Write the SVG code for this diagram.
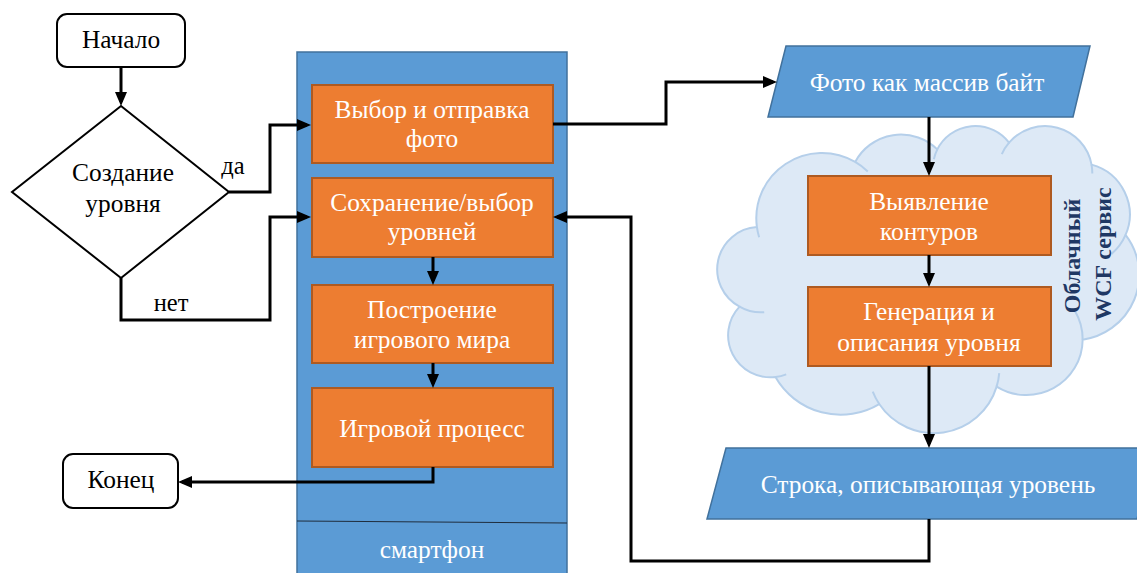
<svg xmlns="http://www.w3.org/2000/svg" width="1137" height="573" viewBox="0 0 1137 573">
<style>
.t{font-family:"Liberation Serif","Times New Roman",serif;font-size:25.4px;text-anchor:middle}
.w{fill:#ffffff}
.k{fill:#000000}
.orange{fill:#ed7d31;stroke:#ae5a21;stroke-width:2}
.blue{fill:#5b9bd5;stroke:#41719c;stroke-width:1.5}
.term{fill:#ffffff;stroke:#000000;stroke-width:2}
.conn{fill:none;stroke:#000000;stroke-width:3}
.cloud{fill:#dde9f6;stroke:#b5cfea;stroke-width:2}
.crease{fill:none;stroke:#b5cfea;stroke-width:2}
.svc{font-family:"Liberation Serif","Times New Roman",serif;font-size:24px;font-weight:bold;fill:#1f3864;text-anchor:middle}
</style>
<defs>
<marker id="ah" viewBox="0 0 14 12" refX="10" refY="6" markerWidth="14" markerHeight="12" markerUnits="userSpaceOnUse" orient="auto">
<path d="M0,0 L14,6 L0,12 Z" fill="#000000"/>
</marker>
</defs>
<rect width="1137" height="573" fill="#ffffff"/>

<g id="cloud">
<g transform="translate(719,125) scale(0.0097222,0.0071065)">
<path class="cloud" vector-effect="non-scaling-stroke" d="M3900,14370 A6753,9190 0 0 1 14005,5202 A5333,7267 0 0 1 22456,3432 A4365,5945 0 0 1 29833,2481 A4857,6595 0 0 1 38318,5576 A5333,7273 0 0 1 41818,15460 A6775,9220 0 0 1 37404,30203 A5785,7867 0 0 1 28556,36814 A6752,9215 0 0 1 16481,39265 A7720,10543 0 0 1 5805,35470 A4360,5918 0 0 1 2114,25549 A4345,5945 0 0 1 3900,14370 Z"/>
<path class="crease" vector-effect="non-scaling-stroke" d="M4650,26345 A4345,5945 0 0 1 2114,25549 M6914,35089 A4360,5918 0 0 1 5805,35470 M16481,39265 A6752,9215 0 0 1 15813,37525 M28823,34904 A6752,9215 0 0 1 28556,36814 M36630,26207 A5785,7867 0 0 1 37404,30203 M41818,15460 A5333,7273 0 0 1 40372,18134 M38318,5576 A4857,6595 0 0 1 38394,6840 M29090,4094 A4857,6595 0 0 1 29833,2481 M22097,4822 A4365,5945 0 0 1 22456,3432 M14005,5202 A6753,9190 0 0 1 15304,6549 M4127,15789 A6753,9190 0 0 1 3900,14370"/>
</g>
<text class="svc" transform="translate(1080,256) rotate(-90)">Облачный</text>
<text class="svc" transform="translate(1111,254) rotate(-90)">WCF сервис</text>
</g>

<g id="smartphone">
<rect class="blue" x="297" y="52" width="270" height="530"/>
<line x1="297" y1="521" x2="567" y2="523" stroke="#1f2d3d" stroke-width="1"/>
<text class="t w" x="432" y="558">смартфон</text>
</g>

<g id="start">
<rect class="term" x="57" y="14" width="128" height="53" rx="10"/>
<text class="t k" x="121" y="48">Начало</text>
</g>

<g id="decision">
<polygon class="term" points="121,106 229,192 121,278 12,192"/>
<text class="t k" x="123" y="181">Создание</text>
<text class="t k" x="123" y="212">уровня</text>
</g>

<g id="end">
<rect class="term" x="63" y="454" width="115" height="54" rx="10"/>
<text class="t k" x="121" y="488">Конец</text>
</g>

<g id="box-select-photo">
<rect class="orange" x="312" y="85" width="241" height="78"/>
<text class="t w" x="432" y="118">Выбор и отправка</text>
<text class="t w" x="432" y="147">фото</text>
</g>

<g id="box-save-levels">
<rect class="orange" x="312" y="178" width="241" height="79"/>
<text class="t w" x="432" y="211">Сохранение/выбор</text>
<text class="t w" x="432" y="240">уровней</text>
</g>

<g id="box-build-world">
<rect class="orange" x="312" y="285" width="241" height="78"/>
<text class="t w" x="432" y="318">Построение</text>
<text class="t w" x="432" y="348">игрового мира</text>
</g>

<g id="box-gameplay">
<rect class="orange" x="312" y="388" width="241" height="79"/>
<text class="t w" x="432" y="437">Игровой процесс</text>
</g>

<g id="photo-bytes">
<polygon class="blue" points="786,46 1090,46 1073,117 768,117"/>
<text class="t w" x="927" y="91">Фото как массив байт</text>
</g>

<g id="box-contours">
<rect class="orange" x="808" y="176" width="243" height="79"/>
<text class="t w" x="929" y="210">Выявление</text>
<text class="t w" x="929" y="240">контуров</text>
</g>

<g id="box-generation">
<rect class="orange" x="808" y="287" width="243" height="79"/>
<text class="t w" x="929" y="320">Генерация и</text>
<text class="t w" x="929" y="351">описания уровня</text>
</g>

<g id="level-string">
<polygon class="blue" points="726,448 1156,448 1137,519 707,519"/>
<text class="t w" x="928" y="493">Строка, описывающая уровень</text>
</g>

<g id="connectors">
<path class="conn" marker-end="url(#ah)" d="M121,67 V102"/>
<path class="conn" marker-end="url(#ah)" d="M229,192 H270 V125 H307"/>
<path class="conn" marker-end="url(#ah)" d="M121,278 V320 H270 V217 H307"/>
<path class="conn" marker-end="url(#ah)" d="M433,257 V281"/>
<path class="conn" marker-end="url(#ah)" d="M433,363 V384"/>
<path class="conn" marker-end="url(#ah)" d="M433,467 V482 H182"/>
<path class="conn" marker-end="url(#ah)" d="M553,124 H666 V82 H773"/>
<path class="conn" marker-end="url(#ah)" d="M929,117 V172"/>
<path class="conn" marker-end="url(#ah)" d="M929,255 V283"/>
<path class="conn" marker-end="url(#ah)" d="M929,366 V444"/>
<path class="conn" marker-end="url(#ah)" d="M929,519 V561 H631 V217 H557"/>
<text class="t k" x="233" y="174" style="font-size:24.5px">да</text>
<text class="t k" x="171" y="311" style="font-size:24.5px">нет</text>
</g>
</svg>
